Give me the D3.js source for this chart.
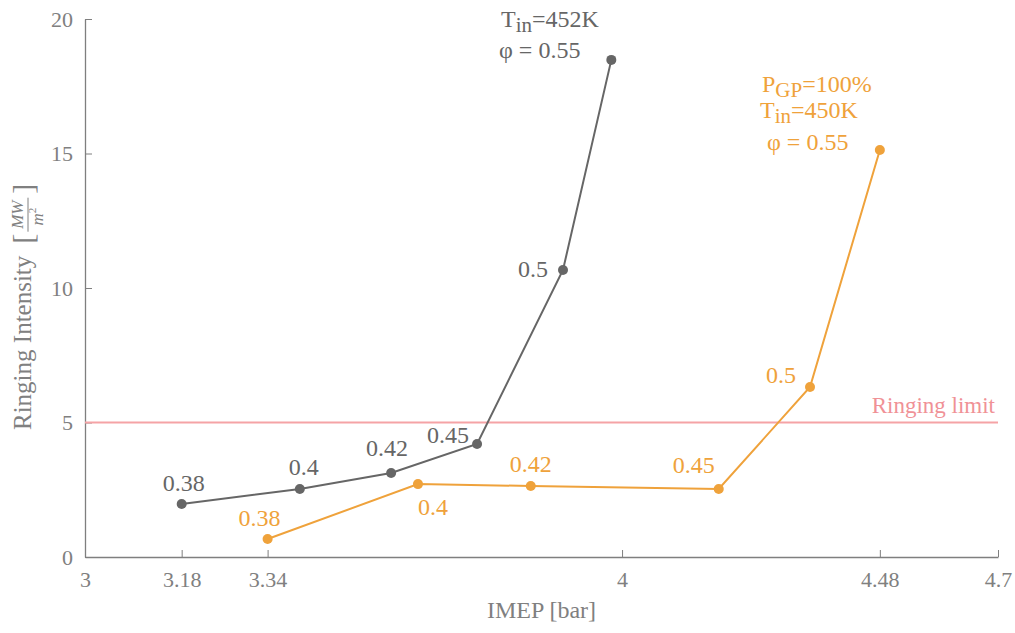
<!DOCTYPE html>
<html>
<head>
<meta charset="utf-8">
<script src="https://cdn.jsdelivr.net/npm/d3@7"></script>
<style>
  html, body { margin: 0; padding: 0; background: #fff; }
  svg { display: block; }
</style>
</head>
<body>
<svg id="chart" width="1015" height="633"></svg>
<script>
// IMEP [bar] and ringing intensity [MW/m^2] for each equivalence ratio
const phiLabels = ["0.38", "0.4", "0.42", "0.45", "0.5", "0.55"];
const imepBase = [3.18, 3.40, 3.57, 3.73, 3.89, 3.98];
const ringBase = [1.97, 2.53, 3.12, 4.20, 10.67, 18.48];
const imepGP = [3.34, 3.62, 3.83, 4.18, 4.35, 4.48];
const ringGP = [0.67, 2.71, 2.64, 2.53, 6.32, 15.13];
const ringingLimit = 5;
const xTicks = [3, 3.18, 3.34, 4, 4.48, 4.7];
const yTicks = [0, 5, 10, 15, 20];

const W = 1015, H = 633;
const margin = { left: 85, right: 17, top: 19, bottom: 76 };
const SERIF = "'Liberation Serif', 'Times New Roman', Times, 'DejaVu Serif', serif";
const svg = d3.select("#chart").attr("font-family", SERIF);

const x = d3.scaleLinear().domain([3, 4.7]).range([margin.left, W - margin.right]);
const y = d3.scaleLinear().domain([0, 20]).range([H - margin.bottom, margin.top]);

const axisColor = "#7f7f7f";
const gray = "#666666";
const orange = "#efa23b";
const limitColor = "#f5a3a6";

// axes: ticks point inward
const xAxis = svg.append("g")
  .attr("transform", `translate(0,${y(0)})`)
  .call(d3.axisBottom(x).tickValues(xTicks).tickSize(-7).tickSizeOuter(0)
    .tickFormat(d => String(d)));
const yAxis = svg.append("g")
  .attr("transform", `translate(${x(3)},0)`)
  .call(d3.axisLeft(y).tickValues(yTicks).tickSize(-7).tickSizeOuter(0));

[xAxis, yAxis].forEach(g => {
  g.attr("font-family", SERIF);
  g.select(".domain").attr("stroke", axisColor).attr("stroke-width", 1.3);
  g.selectAll(".tick line").attr("stroke", axisColor).attr("stroke-width", 1);
  g.selectAll(".tick text").attr("fill", "#808080").attr("font-size", 22);
});
xAxis.selectAll(".tick text").attr("y", 14).attr("dy", "0.71em");
yAxis.selectAll(".tick text").attr("x", -12).attr("dy", "0.32em");

// axis titles
svg.append("text")
  .attr("x", x(3.85)).attr("y", 618)
  .attr("text-anchor", "middle").attr("fill", "#808080").attr("font-size", 24)
  .text("IMEP [bar]");

const yt = svg.append("g").attr("transform", `translate(31,${y(0) - 127}) rotate(-90)`)
  .attr("fill", "#808080");
const ytMain = yt.append("text").attr("x", 0).attr("y", 0)
  .attr("font-size", 25).text("Ringing Intensity");
const bx = ytMain.node().getComputedTextLength() + 12;
yt.append("text").attr("x", bx).attr("y", 2).attr("font-size", 30).text("[");
yt.append("text").attr("x", bx + 29).attr("y", -8).attr("text-anchor", "middle")
  .attr("font-size", 17).attr("font-style", "italic").text("MW");
yt.append("line").attr("x1", bx + 12).attr("x2", bx + 46).attr("y1", -3).attr("y2", -3)
  .attr("stroke", "#808080").attr("stroke-width", 1);
yt.append("text").attr("x", bx + 27).attr("y", 12).attr("text-anchor", "middle")
  .attr("font-size", 17).attr("font-style", "italic")
  .text("m").append("tspan").attr("dy", -7).attr("font-size", 11)
  .attr("font-style", "normal").text("2");
yt.append("text").attr("x", bx + 50).attr("y", 2).attr("font-size", 30).text("]");

// ringing limit
svg.append("line")
  .attr("x1", x(3)).attr("x2", x(4.7))
  .attr("y1", y(ringingLimit)).attr("y2", y(ringingLimit))
  .attr("stroke", limitColor).attr("stroke-width", 2.2);
svg.append("text")
  .attr("x", x(4.7) - 3).attr("y", y(ringingLimit) - 10)
  .attr("text-anchor", "end").attr("fill", "#f09196").attr("font-size", 23)
  .text("Ringing limit");

// series
const line = d3.line().x(d => x(d[0])).y(d => y(d[1]));
function drawSeries(xs, ys, color, offsets) {
  const pts = xs.map((v, i) => [v, ys[i]]);
  svg.append("path").datum(pts).attr("d", line)
    .attr("fill", "none").attr("stroke", color).attr("stroke-width", 2);
  svg.append("g").selectAll("circle").data(pts).join("circle")
    .attr("cx", d => x(d[0])).attr("cy", d => y(d[1])).attr("r", 5)
    .attr("fill", color);
  svg.append("g").selectAll("text").data(offsets).join("text")
    .attr("x", (o, i) => x(pts[i][0]) + o[0])
    .attr("y", (o, i) => y(pts[i][1]) + o[1])
    .attr("text-anchor", o => o[2])
    .attr("fill", color).attr("font-size", 24)
    .text((o, i) => phiLabels[i]);
}

// label offsets [dx, dy, anchor] for the first five points of each series
drawSeries(imepBase, ringBase, gray, [
  [2, -13, "middle"], [4, -14, "middle"], [-4, -17, "middle"],
  [-8, -1, "end"], [-15, 7, "end"]
]);
drawSeries(imepGP, ringGP, orange, [
  [-8, -13, "middle"], [0, 31, "start"], [0, -14, "middle"],
  [-4, -16, "end"], [-14, -4, "end"]
]);

// annotations at the φ = 0.55 end points
function subLine(g, xPos, yPos, main, sub, rest, color) {
  const t = g.append("text").attr("x", xPos).attr("y", yPos)
    .attr("fill", color).attr("font-size", 24);
  t.append("tspan").text(main);
  t.append("tspan").attr("dy", 5).attr("font-size", 21).text(sub);
  t.append("tspan").attr("dy", -5).text(rest);
  return t;
}
const gAnn = svg.append("g");
subLine(gAnn, 501, 27, "T", "in", "=452K", gray);
gAnn.append("text").attr("x", 499).attr("y", 58).attr("fill", gray)
  .attr("font-size", 24).text("φ = 0.55");

const oAnn = svg.append("g");
subLine(oAnn, 762, 92, "P", "GP", "=100%", orange);
subLine(oAnn, 760, 118, "T", "in", "=450K", orange);
oAnn.append("text").attr("x", 767).attr("y", 150).attr("fill", orange)
  .attr("font-size", 24).text("φ = 0.55");
</script>
</body>
</html>
